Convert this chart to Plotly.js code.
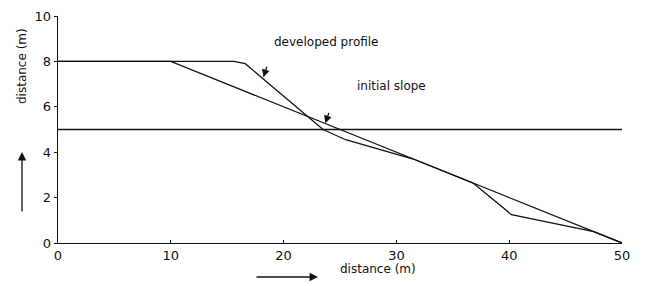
<!DOCTYPE html>
<html><head><meta charset="utf-8">
<script src="https://cdn.plot.ly/plotly-3.0.1.min.js"></script>
<style>html,body{margin:0;padding:0;background:#fff}#c{width:649px;height:286px}</style>
</head><body><div id="c"></div>
<script>
const initialX = [0, 10, 50];
const initialY = [8, 8, 0];
const developedX = [0, 15.6, 16.6, 23.5, 25.5, 31.5, 36.8, 40.2, 47.5, 50];
const developedY = [8, 8, 7.9, 5.0, 4.55, 3.7, 2.64, 1.25, 0.5, 0];
const levelX = [0, 50];
const levelY = [5, 5];
const xTicks = [0, 10, 20, 30, 40, 50];
const yTicks = [0, 2, 4, 6, 8, 10];
const labelDeveloped = "developed profile";
const labelInitial = "initial slope";
const axisTitle = "distance (m)";

const ln = {color: '#111', width: 1.3};
const traces = [
  {x: initialX, y: initialY, mode: 'lines', line: ln, hoverinfo: 'skip'},
  {x: developedX, y: developedY, mode: 'lines', line: ln, hoverinfo: 'skip'},
  {x: levelX, y: levelY, mode: 'lines', line: ln, hoverinfo: 'skip'}
];
const font = {family: 'DejaVu Sans, sans-serif', size: 12, color: '#111'};
const PW = 564, PH = 227;
const layout = {
  width: 649, height: 286,
  margin: {l: 58, r: 27, t: 16, b: 43},
  paper_bgcolor: '#fff', plot_bgcolor: '#fff',
  showlegend: false,
  font: font,
  xaxis: {range: [0, 50], tickvals: xTicks, ticktext: xTicks.map(String),
    showgrid: false, zeroline: false, showline: true, linecolor: '#111', linewidth: 1.3,
    ticks: 'inside', ticklen: 3, tickcolor: '#111', tickfont: {size: 13}},
  yaxis: {range: [0, 10], tickvals: yTicks, ticktext: yTicks.map(String),
    showgrid: false, zeroline: false, showline: true, linecolor: '#111', linewidth: 1.3,
    ticks: 'outside', ticklen: 3, tickcolor: '#111', tickfont: {size: 13}},
  annotations: [
    {x: 23.8, y: 8.85, text: labelDeveloped, showarrow: false, font: {size: 12}},
    {x: 29.6, y: 6.9, text: labelInitial, showarrow: false, font: {size: 12}},
    {x: 18.2, y: 7.3, ax: 4, ay: -12, showarrow: true, arrowhead: 2, arrowsize: 1.2, arrowwidth: 1.3, arrowcolor: '#111', text: ''},
    {x: 23.7, y: 5.27, ax: 4, ay: -12, showarrow: true, arrowhead: 2, arrowsize: 1.2, arrowwidth: 1.3, arrowcolor: '#111', text: ''},
    // axis titles
    {xref: 'paper', yref: 'paper', x: (378-58)/PW, y: -(269-243)/PH, text: axisTitle, showarrow: false,
     xanchor: 'center', yanchor: 'middle', font: {size: 12}},
    {xref: 'paper', yref: 'paper', x: -(58-22)/PW, y: (243-66)/PH, text: axisTitle, showarrow: false,
     textangle: -90, xanchor: 'center', yanchor: 'middle', font: {size: 12}},
    // direction arrows
    {xref: 'paper', yref: 'paper', x: (318-58)/PW, y: -(277-243)/PH, ax: -63, ay: 0,
     showarrow: true, arrowhead: 2, arrowsize: 1.3, arrowwidth: 1.3, arrowcolor: '#111', text: ''},
    {xref: 'paper', yref: 'paper', x: -(58-22)/PW, y: (243-152)/PH, ax: 0, ay: 61,
     showarrow: true, arrowhead: 2, arrowsize: 1.3, arrowwidth: 1.3, arrowcolor: '#111', text: ''}
  ]
};
Plotly.newPlot('c', traces, layout, {displayModeBar: false, staticPlot: true});
</script></body></html>
